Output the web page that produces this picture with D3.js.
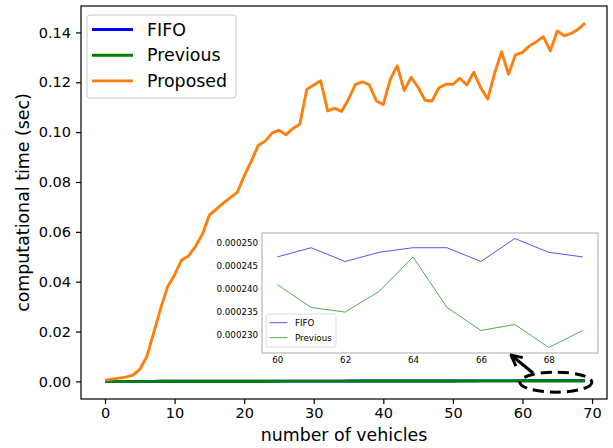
<!DOCTYPE html>
<html>
<head>
<meta charset="utf-8">
<script src="https://cdn.jsdelivr.net/npm/d3@7"></script>
<style>
  body { margin: 0; background: #fff; }
  svg { display: block; font-family: "DejaVu Sans", sans-serif; }
</style>
</head>
<body>
<svg id="chart" width="613" height="448"></svg>
<script>
// proposed method, vehicles 0..69
const proposed = [
  0.0005, 0.0009, 0.0013, 0.0017, 0.0025, 0.0048, 0.0099, 0.0195, 0.0293, 0.0380,
  0.0427, 0.0487, 0.0503, 0.0541, 0.0590, 0.0667, 0.0691, 0.0715, 0.0737, 0.0758,
  0.0824, 0.0882, 0.0946, 0.0963, 0.0996, 0.1008, 0.0989, 0.1015, 0.1032, 0.1171,
  0.1189, 0.1206, 0.1085, 0.1095, 0.1083, 0.1132, 0.1192, 0.1202, 0.1189, 0.1125,
  0.1111, 0.1212, 0.1266, 0.1167, 0.1220, 0.1180, 0.1128, 0.1125, 0.1178, 0.1192,
  0.1192, 0.1216, 0.1189, 0.1240, 0.1178, 0.1133, 0.1236, 0.1323, 0.1232, 0.1310,
  0.1320, 0.1346, 0.1363, 0.1383, 0.1326, 0.1406, 0.1386, 0.1396, 0.1413, 0.1437
];
// FIFO and previous are tiny: only readable for 60..69 in the inset
const fifo = [
  0.000004, 0.000008, 0.000012, 0.000015, 0.000019, 0.000022, 0.000026, 0.000030, 0.000034, 0.000037,
  0.000041, 0.000045, 0.000048, 0.000052, 0.000056, 0.000060, 0.000063, 0.000067, 0.000071, 0.000074,
  0.000078, 0.000082, 0.000086, 0.000089, 0.000093, 0.000097, 0.000100, 0.000104, 0.000108, 0.000112,
  0.000115, 0.000119, 0.000123, 0.000126, 0.000130, 0.000134, 0.000138, 0.000141, 0.000145, 0.000149,
  0.000152, 0.000156, 0.000160, 0.000164, 0.000167, 0.000171, 0.000175, 0.000178, 0.000182, 0.000186,
  0.000190, 0.000193, 0.000197, 0.000201, 0.000204, 0.000208, 0.000212, 0.000216, 0.000219, 0.000223,
  0.000247, 0.000249, 0.000246, 0.000248, 0.000249, 0.000249, 0.000246, 0.000251, 0.000248, 0.000247
];
const previous = [
  0.000004, 0.000007, 0.000011, 0.000014, 0.000018, 0.000021, 0.000025, 0.000028, 0.000032, 0.000035,
  0.000039, 0.000042, 0.000046, 0.000049, 0.000053, 0.000056, 0.000060, 0.000063, 0.000067, 0.000070,
  0.000074, 0.000077, 0.000081, 0.000084, 0.000088, 0.000091, 0.000095, 0.000098, 0.000102, 0.000105,
  0.000109, 0.000112, 0.000116, 0.000119, 0.000123, 0.000126, 0.000130, 0.000133, 0.000137, 0.000140,
  0.000144, 0.000147, 0.000151, 0.000154, 0.000158, 0.000161, 0.000165, 0.000168, 0.000172, 0.000175,
  0.000179, 0.000182, 0.000186, 0.000189, 0.000193, 0.000196, 0.000200, 0.000203, 0.000207, 0.000210,
  0.000241, 0.000236, 0.000235, 0.0002395, 0.000247, 0.000236, 0.000231, 0.0002323, 0.0002273, 0.000231
];
const xTicks = [0, 10, 20, 30, 40, 50, 60, 70];
const yTicks = [0, 0.02, 0.04, 0.06, 0.08, 0.10, 0.12, 0.14];
const insetXTicks = [60, 62, 64, 66, 68];
const insetYTicks = [0.000230, 0.000235, 0.000240, 0.000245, 0.000250];

const COLORS = { fifo: '#0000ff', previous: '#008000', proposed: '#ff7f0e' };
const series = [
  { name: 'FIFO', key: 'fifo', values: fifo },
  { name: 'Previous', key: 'previous', values: previous },
  { name: 'Proposed', key: 'proposed', values: proposed }
];

const main = { left: 81, right: 607, top: 6, bottom: 399 };
const inset = { left: 262, right: 598, top: 233, bottom: 353 };

const $svg = d3.select('#chart');

const scale = {
  x: d3.scaleLinear().domain([-3.45, 72.15]).range([main.left, main.right]),
  y: d3.scaleLinear().domain([-0.00706, 0.1506]).range([main.bottom, main.top]),
  ix: d3.scaleLinear().domain([59.55, 69.45]).range([inset.left, inset.right]),
  iy: d3.scaleLinear().domain([0.0002261, 0.0002522]).range([inset.bottom, inset.top])
};

// main lines
const line = d3.line().x((d, i) => scale.x(i)).y(d => scale.y(d));
const $vis = $svg.append('g');
series.forEach(s => {
  $vis.append('path')
    .attr('d', line(s.values))
    .attr('fill', 'none')
    .attr('stroke', COLORS[s.key])
    .attr('stroke-width', 2.9)
    .attr('stroke-linejoin', 'round');
});

// axes (d3 puts font-size 10 on the axis group, so style the text itself)
const $ax = $svg.append('g');
$ax.append('g')
  .attr('transform', `translate(0,${main.bottom})`)
  .call(d3.axisBottom(scale.x).tickValues(xTicks).tickSize(5).tickPadding(4).tickFormat(d3.format('d')));
$ax.append('g')
  .attr('transform', `translate(${main.left},0)`)
  .call(d3.axisLeft(scale.y).tickValues(yTicks).tickSize(5).tickPadding(5).tickFormat(d3.format('.2f')));
$ax.selectAll('.domain').remove();
$ax.selectAll('.tick line').attr('stroke', '#000').attr('stroke-width', 1.2);
$ax.selectAll('.tick text')
  .attr('fill', '#000')
  .attr('font-family', 'DejaVu Sans')
  .attr('font-size', 14.5);

$svg.append('rect')
  .attr('x', main.left).attr('y', main.top)
  .attr('width', main.right - main.left).attr('height', main.bottom - main.top)
  .attr('fill', 'none').attr('stroke', '#000').attr('stroke-width', 1.2);

$svg.append('text')
  .attr('x', (main.left + main.right) / 2).attr('y', 441)
  .attr('text-anchor', 'middle').attr('font-size', 17.4)
  .text('number of vehicles');
$svg.append('text')
  .attr('transform', `translate(29,${(main.top + main.bottom) / 2}) rotate(-90)`)
  .attr('text-anchor', 'middle').attr('font-size', 17.4)
  .text('computational time (sec)');

// main legend
const $leg = $svg.append('g');
$leg.append('rect')
  .attr('x', 87).attr('y', 15).attr('width', 149).attr('height', 83).attr('rx', 3)
  .attr('fill', '#fff').attr('fill-opacity', 0.8).attr('stroke', '#ccc');
series.forEach((s, i) => {
  const y = 29.5 + i * 25.7;
  $leg.append('line').attr('x1', 92).attr('x2', 133).attr('y1', y).attr('y2', y)
    .attr('stroke', COLORS[s.key]).attr('stroke-width', 2.9);
  $leg.append('text').attr('x', 147).attr('y', y).attr('dy', '0.36em')
    .attr('font-size', 17.4).text(s.name);
});

// inset
const $inset = $svg.append('g');
$inset.append('rect')
  .attr('x', inset.left).attr('y', inset.top)
  .attr('width', inset.right - inset.left).attr('height', inset.bottom - inset.top)
  .attr('fill', '#fff').attr('stroke', '#aaa').attr('stroke-width', 1);

const insetLine = d3.line().x(d => scale.ix(d.x)).y(d => scale.iy(d.y));
series.slice(0, 2).forEach(s => {
  const pts = s.values.slice(60).map((v, i) => ({ x: 60 + i, y: v }));
  $inset.append('path')
    .attr('d', insetLine(pts))
    .attr('fill', 'none')
    .attr('stroke', COLORS[s.key])
    .attr('stroke-opacity', 0.75)
    .attr('stroke-width', 0.9);
});

const $iax = $inset.append('g');
$iax.append('g')
  .attr('transform', `translate(0,${inset.bottom})`)
  .call(d3.axisBottom(scale.ix).tickValues(insetXTicks).tickSize(0).tickPadding(4));
$iax.append('g')
  .attr('transform', `translate(${inset.left},0)`)
  .call(d3.axisLeft(scale.iy).tickValues(insetYTicks).tickSize(0).tickPadding(4).tickFormat(d3.format('.6f')));
$iax.selectAll('.domain').remove();
$iax.selectAll('.tick text')
  .attr('fill', '#000')
  .attr('font-family', 'DejaVu Sans')
  .attr('font-size', 8.7);

const $ileg = $inset.append('g');
$ileg.append('rect')
  .attr('x', 266).attr('y', 314).attr('width', 70).attr('height', 33).attr('rx', 2)
  .attr('fill', '#fff').attr('stroke', '#ddd');
series.slice(0, 2).forEach((s, i) => {
  const y = 322.7 + i * 15;
  $ileg.append('line').attr('x1', 269.5).attr('x2', 287.5).attr('y1', y).attr('y2', y)
    .attr('stroke', COLORS[s.key]).attr('stroke-opacity', 0.75).attr('stroke-width', 0.9);
  $ileg.append('text').attr('x', 295).attr('y', y).attr('dy', '0.36em')
    .attr('font-size', 8.7).text(s.name);
});

// zoom annotation: dashed ellipse + arrow to the inset
$svg.append('ellipse')
  .attr('cx', scale.x(64.8)).attr('cy', scale.y(-0.0003)).attr('rx', 36).attr('ry', 10)
  .attr('fill', 'none').attr('stroke', '#000').attr('stroke-width', 3)
  .attr('stroke-dasharray', '11,6');

$svg.append('defs').append('marker')
  .attr('id', 'head').attr('viewBox', '0 0 10 10')
  .attr('refX', 9).attr('refY', 5)
  .attr('markerWidth', 4.5).attr('markerHeight', 4.5)
  .attr('markerUnits', 'strokeWidth')
  .attr('orient', 'auto')
  .append('path').attr('d', 'M1,1 L9,5 L1,9')
  .attr('fill', 'none').attr('stroke', '#000').attr('stroke-width', 2.2);

$svg.append('line')
  .attr('x1', 533).attr('y1', 373).attr('x2', 511).attr('y2', 355)
  .attr('stroke', '#000').attr('stroke-width', 3)
  .attr('marker-end', 'url(#head)');
</script>
</body>
</html>
